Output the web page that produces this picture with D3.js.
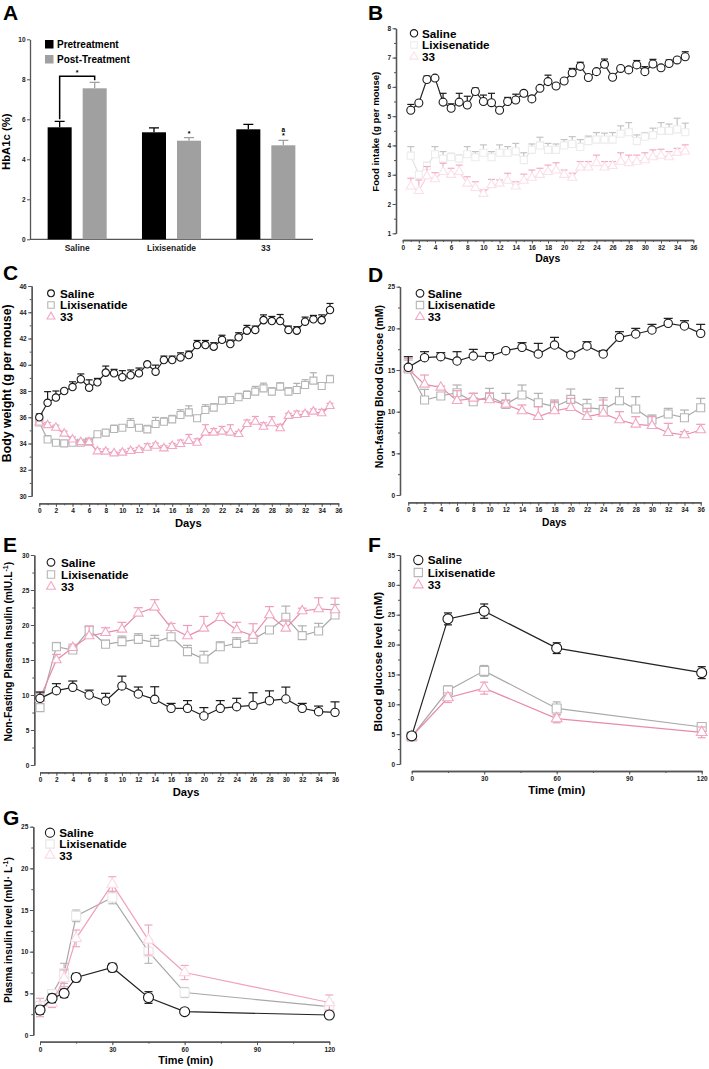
<!DOCTYPE html>
<html>
<head>
<meta charset="utf-8">
<script src="https://cdn.jsdelivr.net/npm/d3@7"></script>
<style>
  body { margin: 0; background: #fff; }
  svg { display: block; font-family: "Liberation Sans", Arial, sans-serif; }
</style>
</head>
<body>
<div id="chart"></div>
<script>
// ---------- Data ----------
// A: HbA1c
const groups = ["Saline", "Lixisenatide", "33"];
const phases = ["Pretreatment", "Post-Treatment"];
const hbaPre = [5.6, 5.35, 5.5];
const hbaPreErr = [0.3, 0.22, 0.25];
const hbaPost = [7.55, 4.93, 4.7];
const hbaPostErr = [0.3, 0.15, 0.25];

// B: food intake, days 1-35
const foodDays = [1,2,3,4,5,6,7,8,9,10,11,12,13,14,15,16,17,18,19,20,21,22,23,24,25,26,27,28,29,30,31,32,33,34,35];
const salineFood = [5.2,5.45,6.25,6.3,5.48,5.27,5.48,5.38,5.84,5.5,5.46,5.2,5.5,5.55,5.78,5.59,5.95,6.18,6.03,6.2,6.48,6.7,6.32,6.52,6.77,6.33,6.63,6.58,6.75,6.52,6.78,6.65,6.8,6.92,7.03];
const salineFoodErr = [0.2,0.05,0.12,0.05,0.3,0.15,0.3,0.3,0.12,0.22,0.32,0.05,0.14,0.2,0.05,0.1,0.05,0.22,0.05,0.05,0.15,0.14,0.05,0.05,0.18,0.05,0.05,0.05,0.15,0.17,0.16,0.05,0.12,0.05,0.17];
const lixiFood = [3.65,3.0,3.3,3.7,3.55,3.6,3.55,3.7,3.6,3.75,3.6,3.75,3.75,3.8,3.5,3.85,4.0,3.85,3.85,4.0,4.05,3.95,4.15,4.2,4.2,4.2,4.4,4.45,4.15,4.3,4.35,4.5,4.5,4.55,4.45];
const lixiFoodErr = [0.31,0.1,0.12,0.26,0.24,0.13,0.12,0.26,0.19,0.27,0.19,0.27,0.21,0.27,0.25,0.2,0.28,0.22,0.2,0.2,0.25,0.25,0.17,0.24,0.22,0.24,0.27,0.33,0.21,0.14,0.24,0.28,0.23,0.38,0.31];
const c33Food = [2.6,2.45,2.95,2.85,3.1,3.0,3.1,2.7,2.55,2.35,2.65,2.7,2.8,2.6,2.8,2.9,3.0,3.1,3.15,3.0,2.9,3.25,3.25,3.4,3.25,3.3,3.45,3.4,3.45,3.5,3.6,3.65,3.6,3.75,3.8];
const c33FoodErr = [0.28,0.37,0.33,0.22,0.29,0.22,0.23,0.23,0.21,0.13,0.19,0.12,0.25,0.16,0.22,0.26,0.22,0.23,0.26,0.16,0.15,0.2,0.2,0.27,0.2,0.15,0.3,0.27,0.22,0.25,0.25,0.22,0.19,0.15,0.22];

// C: body weight, days 0-35
const bwDays = [0,1,2,3,4,5,6,7,8,9,10,11,12,13,14,15,16,17,18,19,20,21,22,23,24,25,26,27,28,29,30,31,32,33,34,35];
const salineBW = [36.0,37.1,37.5,38.0,38.3,38.9,38.25,38.66,39.4,39.35,39.05,39.2,39.35,40.03,39.47,40.36,40.36,40.56,40.74,41.5,41.5,41.38,41.9,41.58,42.09,42.6,42.65,43.4,43.33,43.33,42.65,42.6,43.28,43.46,43.4,44.17];
const salineBWErr = [0.25,0.85,0.5,0.1,0.4,0.4,0.6,0.3,0.5,0.3,0.5,0.4,0.4,0.1,0.5,0.3,0.3,0.35,0.3,0.35,0.35,0.3,0.35,0.3,0.35,0.4,0.3,0.4,0.35,0.5,0.3,0.3,0.35,0.3,0.4,0.5];
const lixiBW = [35.6,34.3,34.06,34.01,34.06,34.06,34.14,34.7,34.83,35.1,35.2,35.49,35.2,35.08,35.49,35.66,35.84,36.17,36.37,35.92,36.55,36.73,37.26,37.31,37.52,37.7,37.95,38.2,37.95,38.33,37.95,38.08,38.46,38.79,38.38,38.89];
const lixiBWErr = [0.2,0.3,0.2,0.1,0.1,0.1,0.2,0.2,0.2,0.3,0.2,0.4,0.2,0.3,0.5,0.3,0.3,0.4,0.5,0.2,0.4,0.3,0.3,0.2,0.3,0.3,0.4,0.4,0.3,0.3,0.3,0.5,0.4,0.6,0.2,0.3];
const c33BW = [35.6,35.4,35.2,34.75,34.3,34.1,34.1,33.4,33.38,33.25,33.3,33.43,33.5,33.68,33.83,33.63,33.81,33.96,34.19,34.06,34.83,34.83,34.9,34.83,34.72,35.49,35.66,35.28,35.54,35.16,36.1,36.17,36.25,36.43,36.3,36.86];
const c33BWErr = [0.2,0.2,0.2,0.2,0.2,0.1,0.2,0.2,0.2,0.1,0.2,0.2,0.2,0.3,0.2,0.2,0.2,0.3,0.5,0.3,0.6,0.3,0.4,0.6,0.2,0.3,0.4,0.3,0.5,0.3,0.2,0.3,0.2,0.2,0.3,0.2];

// D and E: every second day, 0-36
const evenDays = [0,2,4,6,8,10,12,14,16,18,20,22,24,26,28,30,32,34,36];
const salineBG = [15.32,16.48,16.6,16.08,16.68,16.6,17.32,17.72,16.92,18.0,16.8,17.88,16.92,18.92,19.32,19.8,20.6,20.28,19.4];
const salineBGErr = [1.28,0.72,0.48,1.12,0.8,0.48,0.16,0.56,1.28,0.92,0.32,0.52,0.4,0.68,0.68,0.68,0.6,0.64,1.08];
const lixiBG = [15.12,11.4,11.88,12.28,11.2,11.8,10.88,12.0,11.08,10.6,11.48,10.48,10.28,11.32,10.32,9.0,9.72,9.28,10.48];
const lixiBGErr = [1.08,1.28,0.32,0.92,1.0,1.0,1.32,1.2,1.12,0.8,1.24,1.0,1.4,1.48,1.48,0.6,0.68,0.92,1.12];
const c33BG = [15.12,13.28,12.92,11.32,11.6,11.4,10.88,10.08,9.4,10.08,10.48,9.4,9.8,9.0,8.48,8.32,7.48,7.2,7.8];
const c33BGErr = [1.28,1.12,0.16,1.2,0.6,0.8,0.52,0.72,1.2,1.12,1.12,1.0,1.6,1.0,0.92,1.08,1.12,0.4,0.68];

const salineIns = [9.52,10.62,11.1,10.0,9.14,11.29,10.14,9.38,8.1,8.1,7.0,8.1,8.33,8.52,9.19,9.43,8.1,7.62,7.52];
const salineInsErr = [0.9,1.0,0.9,0.7,1.1,1.4,1.0,1.8,0.7,1.1,1.2,1.1,1.2,1.8,1.4,1.7,0.7,0.8,1.5];
const lixiIns = [8.19,16.9,16.43,19.29,17.24,17.62,17.95,17.52,18.33,16.19,15.14,16.9,17.38,17.95,19.29,21.1,18.48,19.14,21.43];
const lixiInsErr = [2.0,0.6,0.5,0.4,0.6,0.8,0.8,1.0,0.9,0.9,1.1,0.7,0.8,0.6,0.4,1.6,1.4,1.1,1.5];
const c33Ins = [9.52,15.0,16.76,18.43,18.9,19.38,21.67,22.52,19.62,18.43,19.52,21.05,19.29,18.48,21.43,19.52,22.0,22.29,22.14];
const c33InsErr = [0.9,0.8,0.5,1.4,0.7,1.0,0.8,1.1,0.6,1.5,1.7,0.6,1.1,1.7,1.2,1.2,0.4,1.6,1.7];

// F: glucose tolerance
const gttTimes = [0, 15, 30, 60, 120];
const salineGTT = [4.7, 24.3, 25.6, 19.4, 15.3];
const salineGTTErr = [0.5, 1.0, 1.2, 0.9, 1.0];
const lixiGTT = [4.6, 12.3, 15.6, 9.3, 6.2];
const lixiGTTErr = [0.4, 0.8, 0.9, 1.1, 0.6];
const c33GTT = [4.6, 11.1, 12.7, 7.6, 5.3];
const c33GTTErr = [0.5, 0.8, 1.0, 0.7, 0.9];

// G: plasma insulin after glucose
const insTimes = [0, 5, 10, 15, 30, 45, 60, 120];
const salineOGTTIns = [3.0, 4.4, 5.0, 6.9, 8.1, 4.5, 2.8, 2.4];
const salineOGTTInsErr = [0.5, 0.5, 0.5, 0.5, 0.5, 0.7, 0.2, 0.2];
const lixiOGTTIns = [3.5, 4.9, 7.4, 14.3, 16.5, 10.0, 5.1, 3.4];
const lixiOGTTInsErr = [0.5, 0.4, 1.2, 0.7, 0.75, 1.4, 0.6, 0.3];
const c33OGTTIns = [3.3, 3.8, 6.8, 11.6, 18.1, 11.4, 7.5, 3.9];
const c33OGTTInsErr = [1.1, 0.5, 1.0, 1.0, 0.9, 1.8, 0.85, 0.9];

// tick labels
const dayTicks = [0,2,4,6,8,10,12,14,16,18,20,22,24,26,28,30,32,34,36];
const minTicks = [0, 30, 60, 90, 120];
const seriesNames = ["Saline", "Lixisenatide", "33"];

// ---------- Drawing ----------
const svg = d3.select("#chart").append("svg")
  .attr("width", 709)
  .attr("height", 1069);

const FONT = "'Liberation Sans', Arial, sans-serif";
const intFmt = d3.format("d");

// colours
const sal = { stroke: "#1a1a1a", line: "#222", err: "#1a1a1a", symbol: d3.symbolCircle };
const lix = { stroke: "#b5b5b5", line: "#a8a8a8", err: "#b0b0b0", symbol: d3.symbolSquare };
const c33 = { stroke: "#f2a7c3", line: "#e88aae", err: "#ee9dbb", symbol: d3.symbolTriangle };
const lixFaint = { stroke: "#ececec", line: "#e2e2e2", err: "#c4c4c4", symbol: d3.symbolSquare };
const c33Faint = { stroke: "#fbe2ea", line: "#f8d0dd", err: "#f3acc4", symbol: d3.symbolTriangle };
const lixG = { stroke: "#e6e6e6", line: "#a8a8a8", err: "#b8b8b8", symbol: d3.symbolSquare };
const c33G = { stroke: "#fadbe6", line: "#f0a0bc", err: "#f0a8c2", symbol: d3.symbolTriangle };

function styleAxis(sel) {
  sel.select(".domain").attr("stroke", "#555").attr("stroke-width", 1.3);
  sel.selectAll(".tick line").attr("stroke", "#555").attr("stroke-width", 1);
  sel.selectAll(".tick text")
    .attr("font-size", 6.5).attr("font-weight", "bold")
    .attr("fill", "#222").attr("font-family", FONT);
}

function letter(t, x, y) {
  svg.append("text").attr("x", x).attr("y", y)
    .attr("font-size", 21).attr("font-weight", "bold")
    .text(t);
}

function yTitle(g, x, cy, size, parts) {
  const t = g.append("text")
    .attr("transform", `translate(${x},${cy}) rotate(-90)`)
    .attr("text-anchor", "middle")
    .attr("font-size", size).attr("font-weight", "bold");
  parts.forEach(p => {
    const ts = t.append("tspan").text(p.t);
    if (p.dy) ts.attr("dy", p.dy);
    if (p.size) ts.attr("font-size", p.size);
  });
}

function linePanel(p) {
  const g = svg.append("g");
  const x = d3.scaleLinear().domain(p.xDomain).range(p.xRange);
  const y = d3.scaleLinear().domain(p.yDomain).range(p.yRange);

  // axes (minor ticks first, then labelled ticks)
  g.append("g").attr("transform", `translate(0,${p.xAxisY})`)
    .call(d3.axisBottom(x).tickValues(p.xMinor).tickSize(2).tickSizeOuter(0).tickFormat(""))
    .call(styleAxis);
  g.append("g").attr("transform", `translate(0,${p.xAxisY})`)
    .call(d3.axisBottom(x).tickValues(p.xTicks).tickSize(3.5).tickSizeOuter(0).tickPadding(2).tickFormat(intFmt))
    .call(styleAxis);
  g.append("g").attr("transform", `translate(${p.yAxisX},0)`)
    .call(d3.axisLeft(y).tickValues(p.yMinor).tickSize(2).tickSizeOuter(0).tickFormat(""))
    .call(styleAxis);
  g.append("g").attr("transform", `translate(${p.yAxisX},0)`)
    .call(d3.axisLeft(y).tickValues(p.yTicks).tickSize(3.5).tickSizeOuter(0).tickPadding(1.5).tickFormat(intFmt))
    .call(styleAxis);

  // titles
  g.append("text").attr("x", p.xTitle[0]).attr("y", p.xTitle[1])
    .attr("text-anchor", "middle").attr("font-size", p.xTitle[2]).attr("font-weight", "bold")
    .text(p.xLabel);
  yTitle(g, p.yTitle[0], p.yTitle[1], p.yTitle[2], p.yLabel);

  // series
  const cap = p.cap;
  const drawOrder = [1, 2, 0];
  drawOrder.forEach(i => {
    const s = p.series[i];
    const pts = s.mean.map((v, k) => ({ x: p.xs[k], y: v, e: s.err[k] }));

    g.append("path").datum(pts)
      .attr("fill", "none")
      .attr("stroke", s.style.line)
      .attr("stroke-width", 1.2)
      .attr("d", d3.line().x(d => x(d.x)).y(d => y(d.y)));

    const eb = g.append("g").attr("stroke", s.style.err).attr("stroke-width", 1.2);
    pts.forEach(d => {
      const top = y(d.y + d.e);
      const bot = p.both ? y(d.y - d.e) : y(d.y);
      eb.append("line").attr("x1", x(d.x)).attr("x2", x(d.x)).attr("y1", bot).attr("y2", top);
      eb.append("line").attr("x1", x(d.x) - cap / 2).attr("x2", x(d.x) + cap / 2).attr("y1", top).attr("y2", top);
      if (p.both) {
        eb.append("line").attr("x1", x(d.x) - cap / 2).attr("x2", x(d.x) + cap / 2).attr("y1", bot).attr("y2", bot);
      }
    });

    g.append("g").selectAll("path")
      .data(pts)
      .join("path")
      .attr("transform", d => `translate(${x(d.x)},${y(d.y)})`)
      .attr("d", d3.symbol().type(s.style.symbol).size(p.sizes[i]))
      .attr("fill", "#fff")
      .attr("stroke", s.style.stroke)
      .attr("stroke-width", 1.1);
  });

  // legend
  const [lx, ly, tx, dy] = p.legend;
  p.series.forEach((s, i) => {
    const cy = ly + i * dy;
    g.append("path")
      .attr("transform", `translate(${lx},${cy})`)
      .attr("d", d3.symbol().type(s.style.symbol).size(p.sizes[i] * 0.85))
      .attr("fill", "#fff").attr("stroke", s.style.stroke).attr("stroke-width", 1.1);
    g.append("text").attr("x", tx).attr("y", cy + 4.2)
      .attr("font-size", 11.7).attr("font-weight", "bold")
      .text(seriesNames[i]);
  });
}

// ---------- Panel A ----------
(function () {
  const g = svg.append("g");
  const x0 = d3.scaleBand().domain(groups).range([30, 313]).paddingInner(0.374).paddingOuter(0.187);
  const x1 = d3.scaleBand().domain(phases).range([0, x0.bandwidth()]).paddingInner(0.314);
  const y = d3.scaleLinear().domain([0, 10]).range([239.3, 39.3]);
  const colors = ["#000", "#a0a0a0"];

  g.append("g").attr("transform", "translate(30,0)")
    .call(d3.axisLeft(y).tickValues([0, 2, 4, 6, 8, 10]).tickSize(3).tickSizeOuter(0).tickPadding(1.5).tickFormat(intFmt))
    .call(styleAxis);
  const xa = g.append("g").attr("transform", "translate(0,239.3)")
    .call(d3.axisBottom(x0).tickSize(0).tickSizeOuter(0).tickPadding(6))
    .call(styleAxis);
  xa.select(".domain").attr("d", "M30,0H313");
  xa.selectAll(".tick text").attr("font-size", 8.5);

  const rows = [];
  groups.forEach((grp, i) => {
    rows.push({ grp, ph: phases[0], v: hbaPre[i], e: hbaPreErr[i], c: colors[0] });
    rows.push({ grp, ph: phases[1], v: hbaPost[i], e: hbaPostErr[i], c: colors[1] });
  });

  g.selectAll(".err").data(rows).join("path")
    .attr("class", "err")
    .attr("fill", "none").attr("stroke", d => d.c).attr("stroke-width", 1.3)
    .attr("d", d => {
      const cx = x0(d.grp) + x1(d.ph) + x1.bandwidth() / 2;
      return `M${cx},${y(d.v)}V${y(d.v + d.e)}M${cx - 5},${y(d.v + d.e)}H${cx + 5}`;
    });

  g.selectAll(".bar").data(rows).join("rect")
    .attr("class", "bar")
    .attr("x", d => x0(d.grp) + x1(d.ph))
    .attr("width", x1.bandwidth())
    .attr("y", d => y(d.v))
    .attr("height", d => y(0) - y(d.v))
    .attr("fill", d => d.c);

  // significance marks
  const cxOf = (grp, ph) => x0(grp) + x1(ph) + x1.bandwidth() / 2;
  const sx1 = cxOf("Saline", phases[0]), sx2 = cxOf("Saline", phases[1]);
  g.append("path").attr("fill", "none").attr("stroke", "#000").attr("stroke-width", 1.5)
    .attr("d", `M${sx1},${y(hbaPre[0] + hbaPreErr[0]) - 2}V${y(8.15)}H${sx2}V${y(7.95)}`);
  g.append("text").attr("x", (sx1 + sx2) / 2).attr("y", y(8.15) - 1.5).attr("text-anchor", "middle")
    .attr("font-size", 7).attr("font-weight", "bold").text("*");
  g.append("text").attr("x", cxOf("Lixisenatide", phases[1])).attr("y", y(hbaPost[1] + hbaPostErr[1]) - 2)
    .attr("text-anchor", "middle").attr("font-size", 7).attr("font-weight", "bold").text("*");
  g.append("text").attr("x", cxOf("33", phases[1])).attr("y", y(hbaPost[2] + hbaPostErr[2]) - 2)
    .attr("text-anchor", "middle").attr("font-size", 7).attr("font-weight", "bold").text("*");
  g.append("text").attr("x", cxOf("33", phases[1])).attr("y", y(hbaPost[2] + hbaPostErr[2]) - 8)
    .attr("text-anchor", "middle").attr("font-size", 6.5).attr("font-weight", "bold").text("a");

  // legend
  phases.forEach((ph, i) => {
    g.append("rect").attr("x", 45).attr("y", 40 + i * 15).attr("width", 8.5).attr("height", 8.5).attr("fill", colors[i]);
    g.append("text").attr("x", 57).attr("y", 48 + i * 15).attr("font-size", 10).attr("font-weight", "bold").text(ph);
  });

  yTitle(g, 10, 141.7, 11.3, [{ t: "HbA1c (%)" }]);
})();

// ---------- Panels B-G ----------
const allDays = d3.range(0, 37, 1);

linePanel({
  xs: foodDays, xDomain: [0, 36], xRange: [402.7, 693.3], yDomain: [1, 8], yRange: [233.3, 28.3],
  xAxisY: 240, yAxisX: 396, xTicks: dayTicks, xMinor: allDays,
  yTicks: [1, 2, 3, 4, 5, 6, 7, 8], yMinor: d3.range(1, 8.01, 0.5),
  xLabel: "Days", xTitle: [547.7, 262, 10.5],
  yLabel: [{ t: "Food intake (g per mouse)" }], yTitle: [379, 131.7, 9.6],
  cap: 7, both: false, sizes: [50, 50, 36],
  legend: [414, 33.3, 422, 11.7],
  series: [
    { mean: salineFood, err: salineFoodErr, style: sal },
    { mean: lixiFood, err: lixiFoodErr, style: lixFaint },
    { mean: c33Food, err: c33FoodErr, style: c33Faint }
  ]
});

linePanel({
  xs: bwDays, xDomain: [0, 36], xRange: [39.3, 338.3], yDomain: [30, 46], yRange: [496, 286],
  xAxisY: 503.3, yAxisX: 31.7, xTicks: dayTicks, xMinor: allDays,
  yTicks: [30, 32, 34, 36, 38, 40, 42, 44, 46], yMinor: d3.range(30, 46.01, 1),
  xLabel: "Days", xTitle: [188.3, 526.5, 11.2],
  yLabel: [{ t: "Body weight (g per mouse)" }], yTitle: [11, 383.3, 12.3],
  cap: 7, both: false, sizes: [43, 49, 32],
  legend: [51, 293.3, 60, 11.7],
  series: [
    { mean: salineBW, err: salineBWErr, style: sal },
    { mean: lixiBW, err: lixiBWErr, style: lix },
    { mean: c33BW, err: c33BWErr, style: c33 }
  ]
});

linePanel({
  xs: evenDays, xDomain: [0, 36], xRange: [408.3, 700.7], yDomain: [0, 25], yRange: [495, 286.7],
  xAxisY: 502.3, yAxisX: 400, xTicks: dayTicks, xMinor: allDays,
  yTicks: [0, 5, 10, 15, 20, 25], yMinor: d3.range(0, 25.01, 2.5),
  xLabel: "Days", xTitle: [554.3, 525.5, 10.2],
  yLabel: [{ t: "Non-fasting Blood Glucose (mM)" }], yTitle: [383, 386.7, 10.5],
  cap: 9, both: false, sizes: [55, 64, 40],
  legend: [420, 293.3, 427.7, 11.8],
  series: [
    { mean: salineBG, err: salineBGErr, style: sal },
    { mean: lixiBG, err: lixiBGErr, style: lix },
    { mean: c33BG, err: c33BGErr, style: c33 }
  ]
});

linePanel({
  xs: evenDays, xDomain: [0, 36], xRange: [40, 335], yDomain: [0, 30], yRange: [765, 555],
  xAxisY: 772.3, yAxisX: 34.3, xTicks: dayTicks, xMinor: allDays,
  yTicks: [0, 5, 10, 15, 20, 25, 30], yMinor: d3.range(0, 30.01, 2.5),
  xLabel: "Days", xTitle: [186, 796, 11.2],
  yLabel: [{ t: "Non-Fasting Plasma Insulin (mIU.L" }, { t: "-1", dy: -4, size: 7 }, { t: ")", dy: 4 }],
  yTitle: [11.5, 651.7, 10.3],
  cap: 9, both: false, sizes: [55, 64, 40],
  legend: [51, 562.3, 61, 12.2],
  series: [
    { mean: salineIns, err: salineInsErr, style: sal },
    { mean: lixiIns, err: lixiInsErr, style: lix },
    { mean: c33Ins, err: c33InsErr, style: c33 }
  ]
});

linePanel({
  xs: gttTimes, xDomain: [0, 120], xRange: [411.7, 701.7], yDomain: [0, 35], yRange: [764, 555],
  xAxisY: 771, yAxisX: 400, xTicks: minTicks, xMinor: d3.range(0, 121, 15),
  yTicks: [0, 5, 10, 15, 20, 25, 30, 35], yMinor: d3.range(0, 35.01, 2.5),
  xLabel: "Time (min)", xTitle: [556.7, 793.5, 11.3],
  yLabel: [{ t: "Blood glucose level (mM)" }], yTitle: [382, 661.7, 11.6],
  cap: 8, both: true, sizes: [78, 81, 50],
  legend: [418.3, 560, 427.7, 12.5],
  series: [
    { mean: salineGTT, err: salineGTTErr, style: sal },
    { mean: lixiGTT, err: lixiGTTErr, style: lix },
    { mean: c33GTT, err: c33GTTErr, style: c33 }
  ]
});

linePanel({
  xs: insTimes, xDomain: [0, 120], xRange: [40, 329.3], yDomain: [0, 25], yRange: [1035, 826.7],
  xAxisY: 1041.7, yAxisX: 33.3, xTicks: minTicks, xMinor: d3.range(0, 121, 15),
  yTicks: [0, 5, 10, 15, 20, 25], yMinor: d3.range(0, 25.01, 2.5),
  xLabel: "Time (min)", xTitle: [185.7, 1064, 10.9],
  yLabel: [{ t: "Plasma insulin level (mIU\u00b7 L" }, { t: "-1", dy: -4, size: 7 }, { t: ")", dy: 4 }],
  yTitle: [11.5, 930, 10.3],
  cap: 8, both: true, sizes: [78, 81, 50],
  legend: [50, 832.7, 59.3, 11.3],
  series: [
    { mean: salineOGTTIns, err: salineOGTTInsErr, style: sal },
    { mean: lixiOGTTIns, err: lixiOGTTInsErr, style: lixG },
    { mean: c33OGTTIns, err: c33OGTTInsErr, style: c33G }
  ]
});

letter("A", 3, 20);
letter("B", 368, 20);
letter("C", 3, 280);
letter("D", 368, 281.5);
letter("E", 3, 551.5);
letter("F", 368, 551.5);
letter("G", 3, 825);
</script>
</body>
</html>
